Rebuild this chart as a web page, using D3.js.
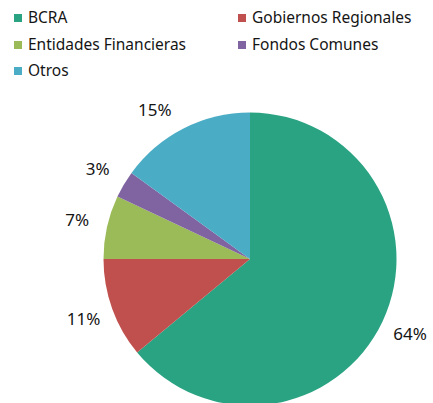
<!DOCTYPE html>
<html><head><meta charset="utf-8">
<script src="https://cdn.jsdelivr.net/npm/d3@7"></script>
<style>html,body{margin:0;padding:0;background:#fff;}svg{display:block;}</style>
</head><body>
<script>
const categories = ["BCRA", "Gobiernos Regionales", "Entidades Financieras", "Fondos Comunes", "Otros"];
const values = [64, 11, 7, 3, 15];
const labels = ["64%", "11%", "7%", "3%", "15%"];
const colors = ["#2aa383", "#c0504d", "#9bbb59", "#8064a2", "#4bacc6"];

const W = 433, H = 403;
const svg = d3.select("body").append("svg").attr("width", W).attr("height", H);
const font = "'Noto Sans', sans-serif";

// legend
const legPos = [[14, 18], [238, 18], [14, 45], [238, 45], [14, 71]];
const leg = svg.append("g");
categories.forEach((c, i) => {
  const [x, y] = legPos[i];
  leg.append("rect").attr("x", x).attr("y", y - 4).attr("width", 8).attr("height", 8).attr("fill", colors[i]);
  leg.append("text").attr("x", x + 14).attr("y", y).attr("dy", "0.35em")
    .attr("font-family", font).attr("font-size", 15.5).attr("fill", "#151515").text(c);
});

const cx = 250, cy = 259, R = 146.5;
const pie = d3.pie().sort(null).value(d => d)(values);
const arc = d3.arc().innerRadius(0).outerRadius(R);
const LR = 177;
// small angular nudge for the last (top) label as in the original layout
const nudge = (i) => (i === values.length - 1 ? -5.5 * Math.PI / 180 : 0);
const g = svg.append("g").attr("transform", `translate(${cx},${cy})`);
g.selectAll("path").data(pie).enter().append("path")
  .attr("d", arc).attr("fill", (d, i) => colors[i]);
g.selectAll("text").data(pie).enter().append("text")
  .attr("transform", (d, i) => {
    const a = (d.startAngle + d.endAngle) / 2 + nudge(i);
    return `translate(${LR * Math.sin(a)},${-LR * Math.cos(a)})`;
  })
  .attr("text-anchor", "middle").attr("dy", "0.35em")
  .attr("font-family", font).attr("font-size", 17).attr("fill", "#151515")
  .text((d, i) => labels[i]);
</script>
</body></html>
